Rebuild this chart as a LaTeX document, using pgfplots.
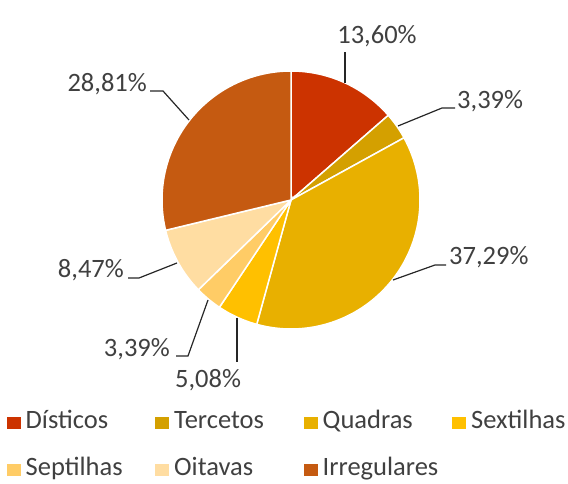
\documentclass[border=0pt]{standalone}
\usepackage{pgfplots}
\pgfplotsset{compat=1.18}
\usepackage{pgfplotstable}
\usepackage{fontspec}
\setmainfont{Carlito}

\definecolor{cA}{HTML}{CC3300}
\definecolor{cB}{HTML}{D4A000}
\definecolor{cC}{HTML}{E8B000}
\definecolor{cD}{HTML}{FFC000}
\definecolor{cE}{HTML}{FFCC66}
\definecolor{cF}{HTML}{FFDDA2}
\definecolor{cG}{HTML}{C55A11}
\definecolor{lbl}{HTML}{404040}

\pgfplotstableread{
idx value
0 13.60
1 3.39
2 37.29
3 5.08
4 3.39
5 8.47
6 28.81
}\piedata

\pgfplotstablegetelem{0}{value}\of\piedata \let\vA\pgfplotsretval
\pgfplotstablegetelem{1}{value}\of\piedata \let\vB\pgfplotsretval
\pgfplotstablegetelem{2}{value}\of\piedata \let\vC\pgfplotsretval
\pgfplotstablegetelem{3}{value}\of\piedata \let\vD\pgfplotsretval
\pgfplotstablegetelem{4}{value}\of\piedata \let\vE\pgfplotsretval
\pgfplotstablegetelem{5}{value}\of\piedata \let\vF\pgfplotsretval
\pgfplotstablegetelem{6}{value}\of\piedata \let\vG\pgfplotsretval

\pgfmathsetmacro\aA{90}
\pgfmathsetmacro\aB{\aA-3.6*\vA}
\pgfmathsetmacro\aC{\aB-3.6*\vB}
\pgfmathsetmacro\aD{\aC-3.6*\vC}
\pgfmathsetmacro\aE{\aD-3.6*\vD}
\pgfmathsetmacro\aF{\aE-3.6*\vE}
\pgfmathsetmacro\aG{\aF-3.6*\vF}
\pgfmathsetmacro\aH{\aG-3.6*\vG}

\begin{document}
\begin{tikzpicture}
\useasboundingbox (0,0) rectangle (568pt,484pt);
\begin{axis}[
  at={(0,0)}, anchor=origin,
  x=1pt, y=1pt, scale only axis,
  xmin=0, xmax=568, ymin=0, ymax=484,
  hide axis, clip=false,
  slice/.style={draw=white, line width=1.5pt, samples=80, variable=\t},
  legend columns=4,
  legend cell align=left,
  legend image code/.code={\path[#1, draw=none] (0pt,-6pt) rectangle (14pt,6pt);},
  legend style={
    at={(axis description cs:0.0118,0.1519)}, anchor=north west,
    draw=none, fill=none, inner sep=0pt, outer sep=0pt,
    font=\fontsize{26.5}{30}\selectfont, text=lbl,
    nodes={inner sep=0pt, outer sep=0pt, text height=18.5pt, text depth=6.5pt},
    row sep=22pt,
    /tikz/every odd column/.append style={column sep=5pt},
    /tikz/every even column/.append style={column sep=0pt, nodes={text width=129.5pt, align=left}},
  },
]
\addplot[slice, fill=cA, domain=\aB:\aA] ({291+129*cos(\t)},{284+129*sin(\t)}) -- (axis cs:291,284) -- cycle;
\addlegendentry{Dísticos}
\addplot[slice, fill=cB, domain=\aC:\aB] ({291+129*cos(\t)},{284+129*sin(\t)}) -- (axis cs:291,284) -- cycle;
\addlegendentry{Tercetos}
\addplot[slice, fill=cC, domain=\aD:\aC] ({291+129*cos(\t)},{284+129*sin(\t)}) -- (axis cs:291,284) -- cycle;
\addlegendentry{Quadras}
\addplot[slice, fill=cD, domain=\aE:\aD] ({291+129*cos(\t)},{284+129*sin(\t)}) -- (axis cs:291,284) -- cycle;
\addlegendentry{Sextilhas}
\addplot[slice, fill=cE, domain=\aF:\aE] ({291+129*cos(\t)},{284+129*sin(\t)}) -- (axis cs:291,284) -- cycle;
\addlegendentry{Septilhas}
\addplot[slice, fill=cF, domain=\aG:\aF] ({291+129*cos(\t)},{284+129*sin(\t)}) -- (axis cs:291,284) -- cycle;
\addlegendentry{Oitavas}
\addplot[slice, fill=cG, domain=\aH:\aG] ({291+129*cos(\t)},{284+129*sin(\t)}) -- (axis cs:291,284) -- cycle;
\addlegendentry{Irregulares}

% leader lines
\draw[black!85, line width=1.2pt] (axis cs:345,401) -- (axis cs:345,432);
\draw[black!85, line width=1.2pt] (axis cs:398,358) -- (axis cs:442,376) -- (axis cs:455,376);
\draw[black!85, line width=1.2pt] (axis cs:393,204) -- (axis cs:435,219) -- (axis cs:446,219);
\draw[black!85, line width=1.2pt] (axis cs:237,166) -- (axis cs:237,122);
\draw[black!85, line width=1.2pt] (axis cs:208,184) -- (axis cs:188,128) -- (axis cs:176,128);
\draw[black!85, line width=1.2pt] (axis cs:177,221) -- (axis cs:139,206) -- (axis cs:128,206);
\draw[black!85, line width=1.2pt] (axis cs:189,364) -- (axis cs:163,393) -- (axis cs:150,393);

% data labels
\begin{scope}[every node/.style={font=\fontsize{26.5}{30}\selectfont, text=lbl, inner sep=0pt}]
\node[anchor=base] at (axis cs:377,440) {13,60\%};
\node[anchor=base west] at (axis cs:457,375) {3,39\%};
\node[anchor=base west] at (axis cs:449,219) {37,29\%};
\node[anchor=base] at (axis cs:208,96) {5,08\%};
\node[anchor=base east] at (axis cs:170,127) {3,39\%};
\node[anchor=base east] at (axis cs:124,206) {8,47\%};
\node[anchor=base east] at (axis cs:147,392) {28,81\%};
\end{scope}
\end{axis}
\end{tikzpicture}
\end{document}
